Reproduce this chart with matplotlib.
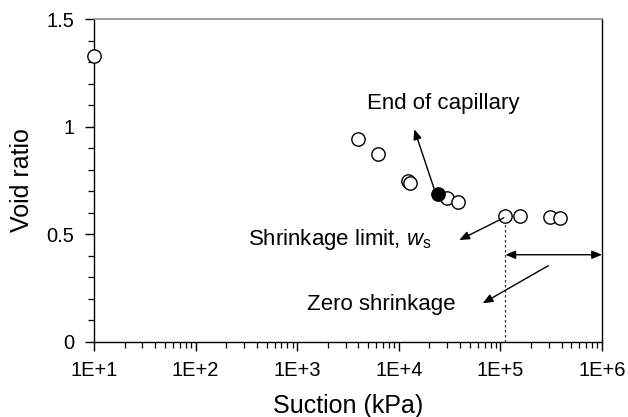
import matplotlib
matplotlib.use("Agg")
import matplotlib.pyplot as plt
from matplotlib.ticker import FixedLocator, LogLocator, FuncFormatter, NullFormatter
import numpy as np

plt.rcParams["font.family"] = ["Liberation Sans", "DejaVu Sans"]
plt.rcParams["mathtext.fontset"] = "custom"
plt.rcParams["mathtext.rm"] = "Liberation Sans"
plt.rcParams["mathtext.it"] = "Liberation Sans:italic"

# measured suction / void ratio (open circles)
suction = [10, 3940, 6280, 12400, 12900, 30000, 38000, 112000, 157000, 307000, 386000]
void_ratio = [1.329, 0.943, 0.872, 0.749, 0.737, 0.667, 0.648, 0.586, 0.583, 0.578, 0.576]

# end of capillary regime (filled circle)
cap_suction = [24100]
cap_void = [0.685]

# shrinkage limit suction
ws_suction = 112000
ws_void = 0.586

x_ticks = [1e1, 1e2, 1e3, 1e4, 1e5, 1e6]
y_ticks = [0, 0.5, 1, 1.5]

fig = plt.figure(figsize=(6.28, 4.17), dpi=100)
ax = fig.add_axes([0.1497, 0.181, 0.8089, 0.7727])

ax.plot(suction, void_ratio, "o", ms=9.6, mfc="white", mec="black", mew=1.0,
        zorder=3, clip_on=False)
ax.plot(cap_suction, cap_void, "o", ms=9.6, mfc="black", mec="black", mew=1.0,
        zorder=4)

ax.set_xscale("log")
ax.set_xlim(1e1, 1e6)
ax.set_ylim(0, 1.5)

ax.xaxis.set_major_locator(FixedLocator(x_ticks))
ax.xaxis.set_major_formatter(FuncFormatter(lambda v, p: f"1E+{int(round(np.log10(v)))}"))
ax.xaxis.set_minor_locator(LogLocator(base=10, subs=np.arange(2, 10)))
ax.xaxis.set_minor_formatter(NullFormatter())
ax.yaxis.set_major_locator(FixedLocator(y_ticks))
ax.yaxis.set_major_formatter(FuncFormatter(lambda v, p: f"{v:g}"))
ax.yaxis.set_minor_locator(FixedLocator(np.arange(0, 1.51, 0.1)))

ax.tick_params(which="major", direction="out", length=6.3, width=1.0,
               labelsize=14.5, top=False, right=False)
ax.tick_params(which="minor", direction="out", length=4.3, width=0.9,
               top=False, right=False)
ax.tick_params(axis="x", which="major", pad=8)
ax.tick_params(axis="y", which="major", pad=8)

for s in ["left", "bottom", "right"]:
    ax.spines[s].set_color("black")
    ax.spines[s].set_linewidth(1.0)
ax.spines["top"].set_color("#8c8c8c")
ax.spines["top"].set_linewidth(1.2)

ax.set_xlabel("Suction (kPa)", fontsize=18, labelpad=10)
ax.set_ylabel("Void ratio", fontsize=18, labelpad=9)

# shrinkage limit marker and zero-shrinkage range
ax.plot([ws_suction, ws_suction], [0, ws_void - 0.02], ls=(0, (2, 2)),
        color="#333333", lw=0.9, zorder=2)

head = dict(arrowstyle="-|>,head_length=0.6,head_width=0.25", color="black",
            lw=1.0, shrinkA=0, shrinkB=0)
ax.annotate("", xy=(1e6, 0.404), xytext=(ws_suction, 0.404),
            arrowprops=dict(arrowstyle="<|-|>,head_length=0.6,head_width=0.25",
                            color="black", lw=1.0, shrinkA=0, shrinkB=0))

ax.annotate("", xy=(14200, 0.988), xytext=(22200, 0.713), arrowprops=head)
ax.annotate("", xy=(39400, 0.4725), xytext=(108000, 0.576), arrowprops=head)
ax.annotate("", xy=(67000, 0.178), xytext=(296000, 0.353), arrowprops=head)

ax.text(4860, 1.082, "End of capillary", fontsize=16, ha="left", va="baseline")
ax.text(328, 0.449, r"Shrinkage limit, $\mathit{w}_\mathrm{s}$", fontsize=16,
        ha="left", va="baseline")
ax.text(1247, 0.147, "Zero shrinkage", fontsize=16, ha="left", va="baseline")

fig.savefig("out.png", dpi=100)
